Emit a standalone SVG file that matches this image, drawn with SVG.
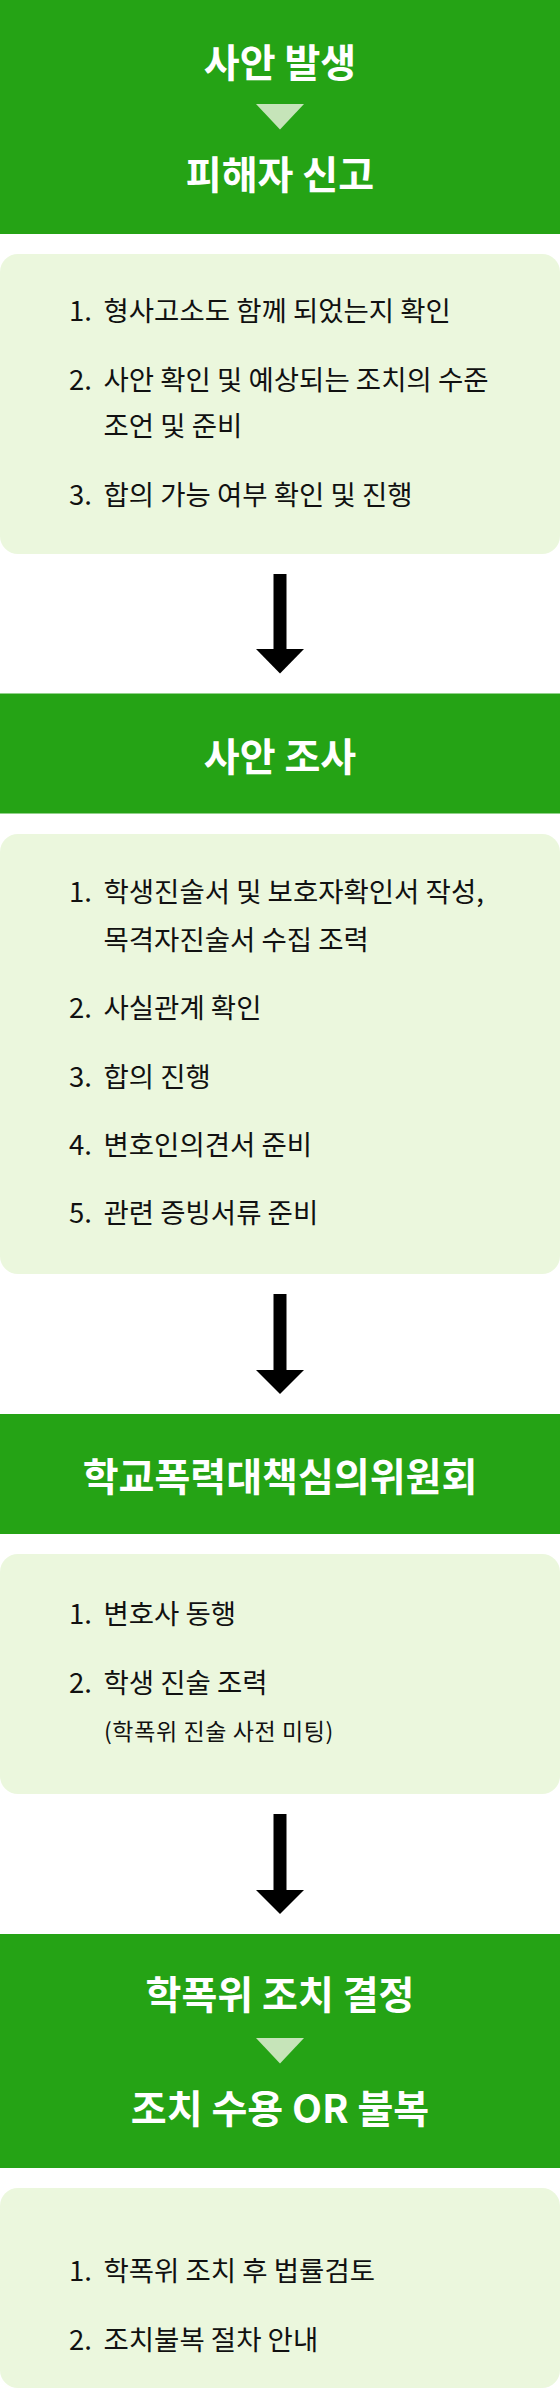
<svg xmlns="http://www.w3.org/2000/svg" width="560" height="2390" viewBox="0 0 560 2390">
<defs>
<style>
.hdr{fill:#25a315}
.box{fill:#ebf7dd}
.tri{fill:#c6e4b9}
.title{font-family:"Noto Sans CJK KR","Noto Sans",sans-serif;font-weight:700;font-size:39px;fill:#ffffff;text-anchor:middle}
.body{font-family:"Noto Sans CJK KR","Noto Sans",sans-serif;font-size:27.5px;fill:#111111}
.small{font-family:"Noto Sans CJK KR","Noto Sans",sans-serif;font-size:23px;letter-spacing:0.6px;fill:#111111}
.arr{fill:#000000}
</style>
</defs>
<rect width="560" height="2390" fill="#ffffff"/>

<g id="node-incident">
<rect class="hdr" x="0" y="0" width="560" height="234"/>
<text class="title" x="280" y="77">사안 발생</text>
<polygon class="tri" points="256,104 304,104 280,129.5"/>
<text class="title" x="280" y="189">피해자 신고</text>
</g>

<g id="node-incident-detail">
<rect class="box" x="0" y="254" width="560" height="300" rx="18"/>
<text class="body" x="69" y="321">1.</text>
<text class="body" x="103.5" y="321">형사고소도 함께 되었는지 확인</text>
<text class="body" x="69" y="390">2.</text>
<text class="body" x="103.5" y="390">사안 확인 및 예상되는 조치의 수준</text>
<text class="body" x="103.5" y="436">조언 및 준비</text>
<text class="body" x="69" y="505">3.</text>
<text class="body" x="103.5" y="505">합의 가능 여부 확인 및 진행</text>
</g>

<g id="node-investigation">
<rect class="hdr" x="0" y="693.5" width="560" height="120"/>
<text class="title" x="280" y="770.5">사안 조사</text>
</g>

<g id="node-investigation-detail">
<rect class="box" x="0" y="834" width="560" height="440" rx="18"/>
<text class="body" x="69" y="902">1.</text>
<text class="body" x="103.5" y="902">학생진술서 및 보호자확인서 작성,</text>
<text class="body" x="103.5" y="950">목격자진술서 수집 조력</text>
<text class="body" x="69" y="1018">2.</text>
<text class="body" x="103.5" y="1018">사실관계 확인</text>
<text class="body" x="69" y="1087">3.</text>
<text class="body" x="103.5" y="1087">합의 진행</text>
<text class="body" x="69" y="1155">4.</text>
<text class="body" x="103.5" y="1155">변호인의견서 준비</text>
<text class="body" x="69" y="1223">5.</text>
<text class="body" x="103.5" y="1223">관련 증빙서류 준비</text>
</g>

<g id="node-committee">
<rect class="hdr" x="0" y="1414" width="560" height="120"/>
<text class="title" x="280" y="1491">학교폭력대책심의위원회</text>
</g>

<g id="node-committee-detail">
<rect class="box" x="0" y="1554" width="560" height="240" rx="18"/>
<text class="body" x="69" y="1624">1.</text>
<text class="body" x="103.5" y="1624">변호사 동행</text>
<text class="body" x="69" y="1693">2.</text>
<text class="body" x="103.5" y="1693">학생 진술 조력</text>
<text class="small" x="104" y="1740">(학폭위 진술 사전 미팅)</text>
</g>

<g id="node-decision">
<rect class="hdr" x="0" y="1934" width="560" height="234"/>
<text class="title" x="280" y="2008.5">학폭위 조치 결정</text>
<polygon class="tri" points="256,2038 304,2038 280,2063.5"/>
<text class="title" x="280" y="2123">조치 수용 OR 불복</text>
</g>

<g id="node-decision-detail">
<rect class="box" x="0" y="2188" width="560" height="200" rx="18"/>
<text class="body" x="69" y="2281">1.</text>
<text class="body" x="103.5" y="2281">학폭위 조치 후 법률검토</text>
<text class="body" x="69" y="2350">2.</text>
<text class="body" x="103.5" y="2350">조치불복 절차 안내</text>
</g>

<g id="connectors">
<rect class="arr" x="273.5" y="574" width="13" height="76"/>
<polygon class="arr" points="256,649 304,649 280,673.5"/>
<rect class="arr" x="273.5" y="1294" width="13" height="77"/>
<polygon class="arr" points="256,1370 304,1370 280,1394"/>
<rect class="arr" x="273.5" y="1814" width="13" height="77"/>
<polygon class="arr" points="256,1890 304,1890 280,1914"/>
</g>
</svg>
